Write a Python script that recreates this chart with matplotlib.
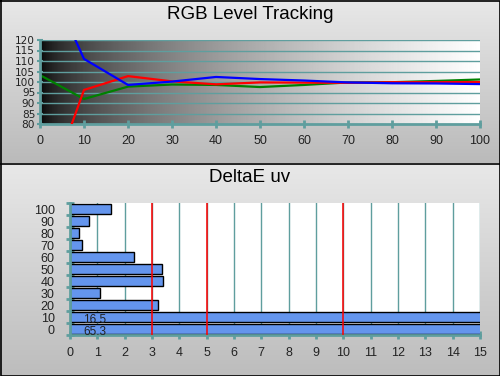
import matplotlib
matplotlib.use("Agg")
import matplotlib.pyplot as plt
import numpy as np

plt.rcParams['font.family'] = ['Liberation Sans', 'DejaVu Sans']

# RGB level tracking (%)
levels = [0, 10, 20, 30, 40, 50, 60, 70, 80, 90, 100]
red = [38, 96.2, 102.8, 100.3, 98.9, 99.8, 99.7, 99.6, 99.9, 99.9, 100.0]
green = [103.3, 91.9, 97.8, 98.8, 98.6, 97.6, 98.6, 99.8, 99.9, 100.5, 101.2]
blue = [157, 111.0, 98.6, 100.2, 102.4, 101.4, 100.7, 99.8, 99.4, 99.3, 99.0]

# DeltaE uv per level
de_labels = ['0', '10', '20', '30', '40', '50', '60', '70', '80', '90', '100']
de_values = [65.3, 16.5, 3.23, 1.11, 3.41, 3.38, 2.35, 0.45, 0.34, 0.71, 1.51]
limits = [3, 5, 10]

teal = '#5f9e9e'
W, H = 500, 376


def vgrad(top, bottom, n=256):
    g = np.linspace(top, bottom, n).reshape(-1, 1, 1)
    return np.repeat(g, 3, axis=2)


fig = plt.figure(figsize=(W / 100, H / 100), dpi=100)

# panel backgrounds
bg = fig.add_axes([0, 0, 1, 1], zorder=-10)
bg.axis('off')
bg.imshow(vgrad(0.91, 0.73), extent=(0, W, 163, 0), aspect='auto')
bg.imshow(vgrad(0.91, 0.74), extent=(0, W, H, 164), aspect='auto')
bg.set_xlim(0, W)
bg.set_ylim(H, 0)
bg.axhline(163.5, color='black', lw=1.2)
bg.plot([0.5, W - 0.5, W - 0.5, 0.5, 0.5], [0.5, 0.5, H - 0.5, H - 0.5, 0.5],
        color='black', lw=1.2)

fig.text(0.5, 0.962, 'RGB Level Tracking', ha='center', va='center', fontsize=13.5)
fig.text(0.5, 0.528, 'DeltaE uv', ha='center', va='center', fontsize=13.5)

# top chart
ax = fig.add_axes([40 / W, 1 - 124 / H, 440 / W, 84 / H])
xg = np.linspace(0, 1, 512).reshape(1, -1) ** 0.55
ax.imshow(xg, extent=(0, 100, 80, 120), cmap='gray', vmin=0, vmax=1,
          aspect='auto', zorder=0)
ax.set_xlim(0, 100)
ax.set_ylim(80, 120)
for yv in range(85, 125, 5):
    ax.axhline(yv, color=teal, lw=1, zorder=1)
ax.plot(levels, red, color='red', lw=1.6, zorder=3)
ax.plot(levels, blue, color='blue', lw=1.6, zorder=4)
ax.plot(levels, green, color='green', lw=1.6, zorder=2)
ax.set_xticks(levels)
ax.set_yticks(range(80, 125, 5))
for s in ['top', 'right']:
    ax.spines[s].set_visible(False)
for s in ['left', 'bottom']:
    ax.spines[s].set_color(teal)
    ax.spines[s].set_linewidth(2)
ax.tick_params(axis='x', direction='inout', length=6, width=2, color=teal,
               labelsize=9, pad=5, labelcolor='#222222')
ax.tick_params(axis='y', direction='inout', length=5, width=1.5, color=teal,
               labelsize=7.6, pad=1, labelcolor='#222222')
for lab in ax.get_yticklabels():
    lab.set_family('DejaVu Sans')

# bottom chart
bx = fig.add_axes([70 / W, 1 - 335 / H, 410 / W, 132 / H])
bx.set_facecolor('white')
ypos = np.arange(len(de_values))
bx.barh(ypos, de_values, height=0.82, color='#6495ed', edgecolor='black',
        lw=1, zorder=2)
for y, v in zip(ypos, de_values):
    if v > 15:
        bx.text(0.9, y - 0.28, f'{v}', ha='center', va='center', fontsize=8.5,
                color='#222222', zorder=4)
for xv in range(1, 16):
    bx.axvline(xv, color=teal, lw=1, zorder=1)
for xv in limits:
    bx.axvline(xv, color='red', lw=1.3, alpha=0.85, zorder=3)
bx.set_xlim(0, 15)
bx.set_ylim(-0.5, len(de_values) - 0.5)
bx.set_xticks(range(0, 16))
bx.set_yticks(ypos)
bx.set_yticklabels(de_labels)
bx.set_yticks(np.arange(-0.5, len(de_values)), minor=True)
for s in ['top', 'right']:
    bx.spines[s].set_visible(False)
for s in ['left', 'bottom']:
    bx.spines[s].set_color(teal)
    bx.spines[s].set_linewidth(2)
bx.tick_params(axis='x', direction='inout', length=6, width=2, color=teal,
               labelsize=9, pad=6, labelcolor='#222222')
bx.tick_params(axis='y', which='major', length=0, labelsize=9, pad=11,
               labelcolor='#222222')
bx.tick_params(axis='y', which='minor', direction='inout', length=6, width=2,
               color=teal)

fig.savefig('out.png', dpi=100)
